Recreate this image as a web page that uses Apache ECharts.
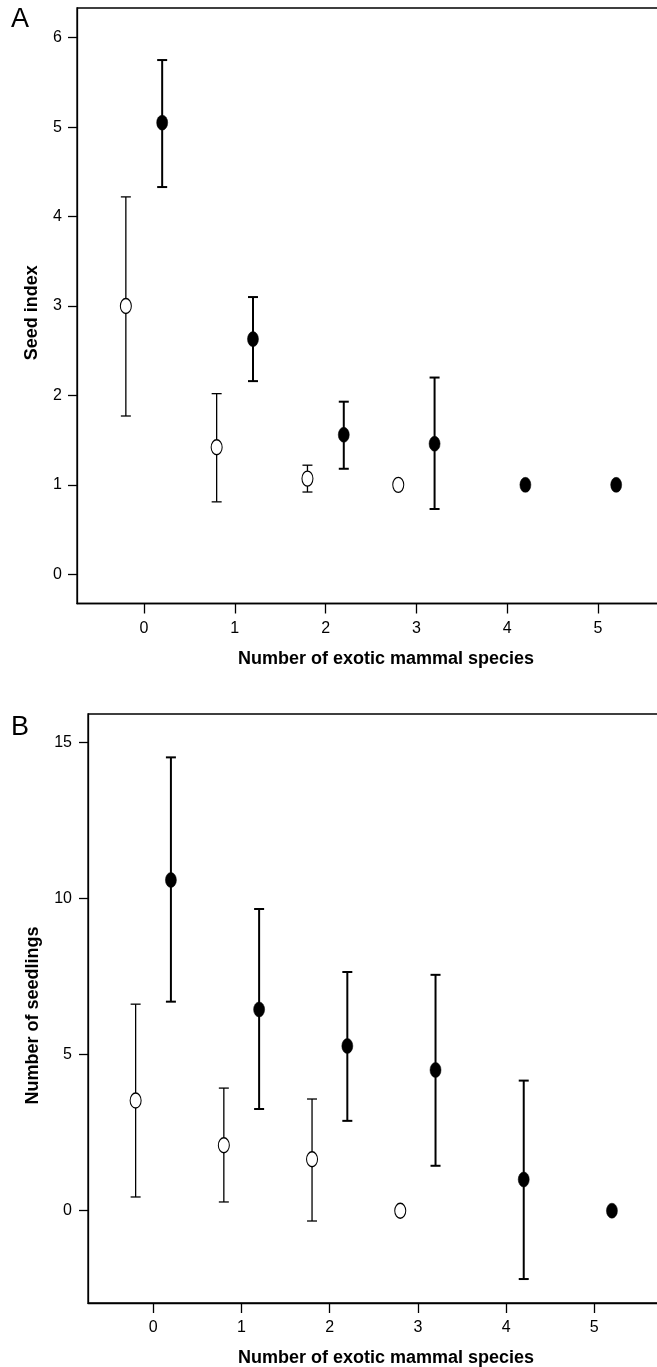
<!DOCTYPE html>
<html>
<head>
<meta charset="utf-8">
<script src="https://cdn.jsdelivr.net/npm/echarts@6/dist/echarts.min.js"></script>
<style>
html,body{margin:0;padding:0;background:#fff;}
#chart{width:657px;height:1367px;}
</style>
</head>
<body>
<div id="chart"></div>
<script>
// ---- data ----
const speciesCounts = [0, 1, 2, 3, 4, 5];
const xTicks = [0, 1, 2, 3, 4, 5];
const yTicksA = [0, 1, 2, 3, 4, 5, 6];
const yTicksB = [0, 5, 10, 15];

// Panel A: seed index
const seedOpenMean = [3.00, 1.42, 1.07, 1.00];
const seedOpenLo   = [1.77, 0.81, 0.92, null];
const seedOpenHi   = [4.22, 2.02, 1.22, null];
const seedFilledMean = [5.05, 2.63, 1.56, 1.46, 1.00, 1.00];
const seedFilledLo   = [4.33, 2.16, 1.18, 0.73, null, null];
const seedFilledHi   = [5.75, 3.10, 1.93, 2.20, null, null];

// Panel B: number of seedlings
const seedlingOpenMean = [3.53, 2.10, 1.65, 0.00];
const seedlingOpenLo   = [0.44, 0.28, -0.33, null];
const seedlingOpenHi   = [6.62, 3.93, 3.58, null];
const seedlingFilledMean = [10.60, 6.45, 5.28, 4.51, 1.00, 0.00];
const seedlingFilledLo   = [6.70, 3.26, 2.88, 1.44, -2.19, null];
const seedlingFilledHi   = [14.53, 9.67, 7.65, 7.56, 4.17, null];

const xTitle = 'Number of exotic mammal species';
const yTitleA = 'Seed index';
const yTitleB = 'Number of seedlings';

// ---- build ----
const DODGE = 0.2;
const FONT = "'Liberation Sans', Arial, Helvetica, sans-serif";

function pts(means, shift) {
  return means.map((m, i) => [speciesCounts[i] + shift, m]);
}
function bars(lo, hi, shift) {
  const out = [];
  lo.forEach((l, i) => {
    if (l !== null && hi[i] !== null) out.push([speciesCounts[i] + shift, l, hi[i]]);
  });
  return out;
}
function errRender(lw) {
  return function (params, api) {
    const x = api.value(0);
    const top = api.coord([x, api.value(2)]);
    const bot = api.coord([x, api.value(1)]);
    const hw = 5;
    const st = { stroke: '#000', lineWidth: lw };
    return {
      type: 'group',
      children: [
        { type: 'line', shape: { x1: top[0], y1: top[1], x2: bot[0], y2: bot[1] }, style: st },
        { type: 'line', shape: { x1: top[0] - hw, y1: top[1], x2: top[0] + hw, y2: top[1] }, style: st },
        { type: 'line', shape: { x1: bot[0] - hw, y1: bot[1], x2: bot[0] + hw, y2: bot[1] }, style: st }
      ]
    };
  };
}

function xAxisCfg(gi, min, max, gap) {
  return {
    gridIndex: gi, type: 'value', min: min, max: max,
    splitLine: { show: false },
    axisLine: { show: true, onZero: false, lineStyle: { color: '#000', width: 1.3 } },
    axisTick: { show: true, customValues: xTicks, length: 10, inside: false, lineStyle: { color: '#000', width: 1.3 } },
    axisLabel: { customValues: xTicks, margin: 17, fontSize: 16, color: '#000', fontFamily: FONT },
    name: xTitle, nameLocation: 'middle', nameGap: gap,
    nameTextStyle: { fontSize: 18, fontWeight: 'bold', color: '#000', fontFamily: FONT }
  };
}
function yAxisCfg(gi, min, max, ticks, name, margin, gap) {
  return {
    gridIndex: gi, type: 'value', min: min, max: max,
    splitLine: { show: false },
    axisLine: { show: true, onZero: false, lineStyle: { color: '#000', width: 1.3 } },
    axisTick: { show: true, customValues: ticks, length: 9, lineStyle: { color: '#000', width: 1.3 } },
    axisLabel: { customValues: ticks, margin: margin, fontSize: 16, color: '#000', fontFamily: FONT },
    name: name, nameLocation: 'middle', nameGap: gap,
    nameTextStyle: { fontSize: 18, fontWeight: 'bold', color: '#000', fontFamily: FONT, padding: [0, 14, 0, 0] }
  };
}
function openScatter(gi, data) {
  return { type: 'scatter', xAxisIndex: gi, yAxisIndex: gi, data: data, symbol: 'circle', symbolSize: [11, 15], z: 5,
    itemStyle: { color: '#fff', borderColor: '#000', borderWidth: 1.2, opacity: 1 } };
}
function filledScatter(gi, data) {
  return { type: 'scatter', xAxisIndex: gi, yAxisIndex: gi, data: data, symbol: 'circle', symbolSize: [11, 15], z: 5,
    itemStyle: { color: '#000', borderColor: '#000', borderWidth: 0.5, opacity: 1 } };
}
function errSeries(gi, data, lw) {
  return { type: 'custom', xAxisIndex: gi, yAxisIndex: gi, data: data, renderItem: errRender(lw), z: 3, silent: true };
}

const option = {
  animation: false,
  backgroundColor: '#fff',
  grid: [
    { left: 77, top: 8, width: 618, height: 595.5, outerBoundsMode: 'none', containLabel: false, show: true, borderColor: '#000', borderWidth: 1.3, backgroundColor: 'transparent' },
    { left: 88, top: 714, width: 596, height: 589, outerBoundsMode: 'none', containLabel: false, show: true, borderColor: '#000', borderWidth: 1.3, backgroundColor: 'transparent' }
  ],
  xAxis: [
    xAxisCfg(0, -0.738, 6.068, 47),
    xAxisCfg(1, -0.740, 6.017, 46)
  ],
  yAxis: [
    yAxisCfg(0, -0.3265, 6.332, yTicksA, yTitleA, 15, 36),
    yAxisCfg(1, -2.958, 15.92, yTicksB, yTitleB, 16, 46)
  ],
  graphic: [
    { type: 'text', left: 11, top: 6, style: { text: 'A', fontSize: 27, fill: '#000', fontFamily: FONT } },
    { type: 'text', left: 11, top: 714, style: { text: 'B', fontSize: 27, fill: '#000', fontFamily: FONT } }
  ],
  series: [
    errSeries(0, bars(seedOpenLo, seedOpenHi, -DODGE), 1.3),
    errSeries(0, bars(seedFilledLo, seedFilledHi, DODGE), 2),
    openScatter(0, pts(seedOpenMean, -DODGE)),
    filledScatter(0, pts(seedFilledMean, DODGE)),
    errSeries(1, bars(seedlingOpenLo, seedlingOpenHi, -DODGE), 1.3),
    errSeries(1, bars(seedlingFilledLo, seedlingFilledHi, DODGE), 2),
    openScatter(1, pts(seedlingOpenMean, -DODGE)),
    filledScatter(1, pts(seedlingFilledMean, DODGE))
  ]
};

const chart = echarts.init(document.getElementById('chart'), null, { renderer: 'canvas' });
chart.setOption(option);
</script>
</body>
</html>
